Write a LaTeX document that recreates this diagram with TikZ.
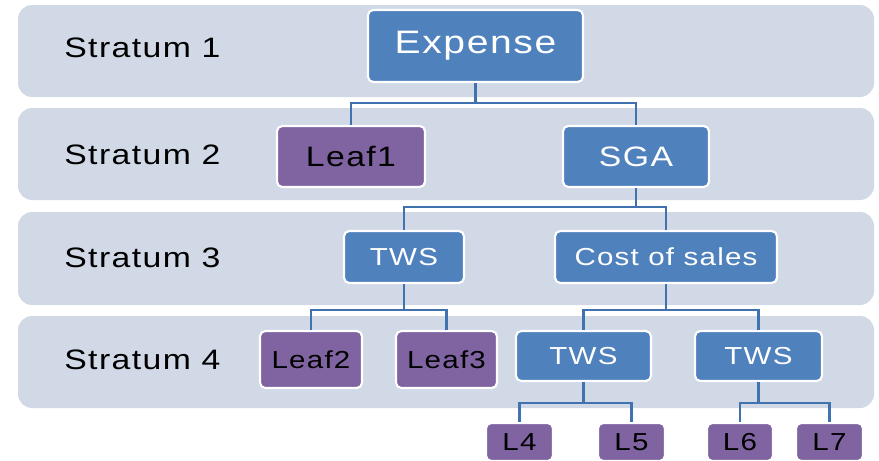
\documentclass[tikz,border=0pt]{standalone}
\usepackage{fontspec}
\setmainfont{Liberation Sans}[FakeStretch=1.2,LetterSpace=5]
\usepackage{tikz}
\usetikzlibrary{positioning,calc}

\definecolor{bandgray}{HTML}{D1D8E6}
\definecolor{boxblue}{HTML}{4F81BD}
\definecolor{boxpurple}{HTML}{8064A2}
\definecolor{linkblue}{HTML}{3F72AF}

\tikzset{
  band/.style={fill=bandgray,draw=none,rounded corners=8pt},
  stratum/.style={anchor=west,inner sep=0pt,font=\fontsize{16}{19}\selectfont},
  bluebox/.style={fill=boxblue,draw=white,line width=1.2pt,rounded corners=3pt,text=white},
  leafbox/.style={fill=boxpurple,draw=white,line width=1.2pt,rounded corners=3pt,text=black},
  big/.style={font=\fontsize{16}{19}\selectfont},
  small/.style={font=\fontsize{14}{17}\selectfont},
  conn/.style={draw=linkblue,line width=1.2pt}
}

\begin{document}
\begin{tikzpicture}[x=0.02cm,y=-0.02cm]
\useasboundingbox (0,0) rectangle (879,460);
% Bands
\foreach \t/\b in {5/97,108/200,212/305,316/408}
    \fill[band] (18,\t) rectangle (874,\b);
% Stratum labels
\node[stratum] (s1) at (64,48) {Stratum 1};
\node[stratum] (s2) at (64,155) {Stratum 2};
\node[stratum] (s3) at (64,258) {Stratum 3};
\node[stratum] (s4) at (64,360) {Stratum 4};
% Boxes
\node[bluebox,minimum width=4.3cm,minimum height=1.44cm,font=\fontsize{18.5}{22}\selectfont] (expense) at (475.5,46) {Expense};
\node[leafbox,big,minimum width=2.96cm,minimum height=1.22cm] (leaf1) at (351,156.5) {Leaf1};
\node[bluebox,big,minimum width=2.92cm,minimum height=1.22cm] (sga) at (636,156.5) {SGA};
\node[bluebox,small,minimum width=2.4cm,minimum height=1.04cm] (tws) at (404,257) {TWS};
\node[bluebox,small,minimum width=4.44cm,minimum height=1.04cm] (cost) at (666,257) {Cost of sales};
\node[leafbox,small,minimum width=2.04cm,minimum height=1.14cm] (leaf2) at (311,359.5) {Leaf2};
\node[leafbox,small,minimum width=2.02cm,minimum height=1.14cm] (leaf3) at (446.5,359.5) {Leaf3};
\node[bluebox,small,minimum width=2.7cm,minimum height=1cm] (twsa) at (583.5,356) {TWS};
\node[bluebox,small,minimum width=2.54cm,minimum height=1cm] (twsb) at (758.5,356) {TWS};
\node[leafbox,small,minimum width=1.34cm,minimum height=0.76cm] (l4) at (519.5,442) {L4};
\node[leafbox,small,minimum width=1.34cm,minimum height=0.76cm] (l5) at (631.5,442) {L5};
\node[leafbox,small,minimum width=1.32cm,minimum height=0.76cm] (l6) at (740,442) {L6};
\node[leafbox,small,minimum width=1.34cm,minimum height=0.76cm] (l7) at (829.5,442) {L7};
% Connectors
\draw[conn] (expense.south) -- (expense.south |- 0,103) -| (leaf1.north);
\draw[conn] (expense.south |- 0,103) -| (sga.north);
\draw[conn] (sga.south) -- (sga.south |- 0,207) -| (tws.north);
\draw[conn] (sga.south |- 0,207) -| (cost.north);
\draw[conn] (tws.south) -- (tws.south |- 0,310) -| (leaf2.north);
\draw[conn] (tws.south |- 0,310) -| (leaf3.north);
\draw[conn] (cost.south) -- (cost.south |- 0,310) -| (twsa.north);
\draw[conn] (cost.south |- 0,310) -| (twsb.north);
\draw[conn] (twsa.south) -- (twsa.south |- 0,403) -| (l4.north);
\draw[conn] (twsa.south |- 0,403) -| (l5.north);
\draw[conn] (twsb.south) -- (twsb.south |- 0,403) -| (l6.north);
\draw[conn] (twsb.south |- 0,403) -| (l7.north);
\end{tikzpicture}
\end{document}
